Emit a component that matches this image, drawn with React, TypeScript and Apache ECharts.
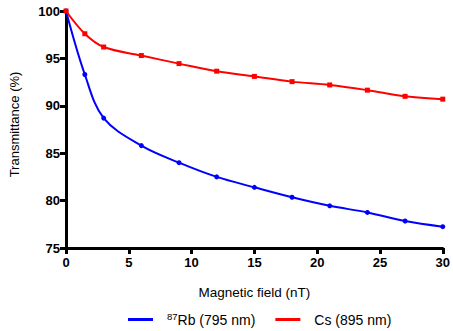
import React, { useEffect, useRef } from "react";
import * as echarts from "echarts";

const fieldValues = [0, 1.5, 3, 6, 9, 12, 15, 18, 21, 24, 27, 30];
const rbValues = [100, 93.3, 88.7, 85.8, 84.0, 82.5, 81.4, 80.35, 79.45, 78.75, 77.85, 77.25];
const csValues = [100, 97.6, 96.2, 95.3, 94.45, 93.65, 93.1, 92.55, 92.2, 91.65, 91.0, 90.7];
const rbName = "87Rb (795 nm)";
const csName = "Cs (895 nm)";

export default function App() {
  const ref = useRef<HTMLDivElement>(null);
  useEffect(() => {
    const chart = echarts.init(ref.current!, null, { renderer: "svg" });
    const font = "Liberation Sans, Arial, sans-serif";
    const pair = (ys: number[]) => fieldValues.map((x, i) => [x, ys[i]]);
    chart.setOption({
      animation: false,
      textStyle: { fontFamily: font },
      grid: { left: 66, top: 11, right: 7, bottom: 83 },
      xAxis: {
        type: "value",
        min: 0,
        max: 30,
        interval: 5,
        name: "Magnetic field (nT)",
        nameLocation: "middle",
        nameGap: 37,
        nameTextStyle: { fontSize: 13.5, color: "#000", fontFamily: font },
        axisLine: { lineStyle: { color: "#000", width: 3 } },
        axisTick: { length: 6, lineStyle: { color: "#000", width: 3 } },
        axisLabel: { fontSize: 13, fontWeight: "bold", color: "#000", margin: 8, fontFamily: font },
        splitLine: { show: false },
      },
      yAxis: {
        type: "value",
        min: 75,
        max: 100,
        interval: 5,
        name: "Transmittance (%)",
        nameLocation: "middle",
        nameGap: 45,
        nameTextStyle: { fontSize: 13, color: "#000", fontFamily: font, padding: [0, 0, 0, 10] },
        axisLine: { show: true, lineStyle: { color: "#000", width: 3 } },
        axisTick: { show: true, length: 6, lineStyle: { color: "#000", width: 3 } },
        axisLabel: { fontSize: 13, fontWeight: "bold", color: "#000", margin: 6, fontFamily: font },
        splitLine: { show: false },
      },
      legend: {
        top: 311,
        left: 128,
        padding: 0,
        itemGap: 20,
        itemWidth: 25,
        itemHeight: 3,
        icon: "rect",
        data: [rbName, csName],
        formatter: (n: string) => (n === rbName ? "{sup|87}{t|Rb (795 nm)}" : "{t|" + n + "}"),
        textStyle: {
          color: "#000",
          fontFamily: font,
          fontSize: 14,
          padding: [0, 0, 0, 9],
          rich: {
            sup: { fontSize: 9.5, verticalAlign: "top", padding: [0, 0, 7, 0], fontFamily: font, color: "#000" },
            t: { fontSize: 14, fontFamily: font, color: "#000" },
          },
        },
      },
      series: [
        {
          name: rbName,
          type: "line",
          data: pair(rbValues),
          smooth: 0.35,
          symbol: "circle",
          symbolSize: 5,
          lineStyle: { color: "#0000ff", width: 2 },
          itemStyle: { color: "#0000ff" },
        },
        {
          name: csName,
          type: "line",
          data: pair(csValues),
          smooth: 0.35,
          symbol: "rect",
          symbolSize: 5,
          lineStyle: { color: "#ff0000", width: 2 },
          itemStyle: { color: "#ff0000" },
        },
      ],
    });
    return () => chart.dispose();
  }, []);
  return <div ref={ref} style={{ width: 453, height: 331, position: "absolute", left: 0, top: 0 }} />;
}
